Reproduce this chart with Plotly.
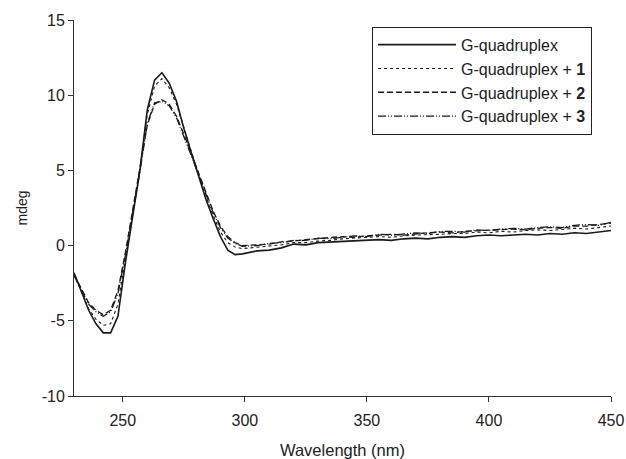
import plotly.graph_objects as go

wavelength = [230, 233, 236, 239, 242, 245, 248, 251, 254, 257,
              260, 263, 266, 269, 272, 275, 278, 281, 284, 287,
              290, 293, 296, 299,
              305, 310, 315, 320, 325, 330, 335, 340, 345, 350,
              355, 360, 365, 370, 375, 380, 385, 390, 395, 400,
              405, 410, 415, 420, 425, 430, 435, 440, 445, 450]

gq = [-1.8, -3.0, -4.3, -5.2, -5.8, -5.8, -4.7, -1.2, 2.0, 5.0,
      9.0, 11.0, 11.5, 10.8, 9.6, 7.8, 6.2, 4.6, 3.1, 1.8,
      0.6, -0.3, -0.6, -0.55,
      -0.35, -0.3, -0.15, 0.1, 0.05, 0.2, 0.25, 0.3, 0.35, 0.35,
      0.4, 0.35, 0.45, 0.5, 0.45, 0.55, 0.6, 0.55, 0.65, 0.7,
      0.65, 0.7, 0.75, 0.7, 0.8, 0.75, 0.85, 0.8, 0.9, 1.0]

gq1 = [-1.9, -3.0, -4.2, -4.9, -5.3, -5.2, -3.9, -0.9, 2.2, 5.1,
       8.7, 10.6, 11.1, 10.5, 9.4, 7.8, 6.3, 4.8, 3.3, 2.0,
       0.9, 0.2, -0.1, -0.2,
       -0.1, 0.0, 0.05, 0.2, 0.2, 0.3, 0.35, 0.45, 0.5, 0.5,
       0.6, 0.55, 0.65, 0.7, 0.7, 0.75, 0.8, 0.8, 0.9, 0.85,
       0.95, 0.9, 1.0, 1.05, 1.0, 1.1, 1.15, 1.1, 1.2, 1.3]

gq2 = [-1.9, -2.9, -3.8, -4.3, -4.6, -4.3, -3.0, -0.5, 2.3, 5.0,
       8.0, 9.4, 9.7, 9.4, 8.6, 7.4, 6.1, 4.8, 3.5, 2.3,
       1.3, 0.6, 0.2, 0.0,
       0.05, 0.1, 0.25, 0.3, 0.4, 0.45, 0.5, 0.6, 0.55, 0.65,
       0.7, 0.75, 0.7, 0.8, 0.85, 0.9, 0.85, 0.95, 1.0, 1.0,
       1.05, 1.1, 1.05, 1.15, 1.2, 1.15, 1.3, 1.3, 1.4, 1.5]

gq3 = [-2.0, -3.0, -3.9, -4.4, -4.7, -4.4, -3.2, -0.7, 2.1, 4.9,
       8.1, 9.5, 9.6, 9.3, 8.5, 7.3, 6.0, 4.7, 3.4, 2.2,
       1.2, 0.5, 0.15, -0.05,
       0.0, 0.15, 0.2, 0.35, 0.35, 0.5, 0.45, 0.55, 0.65, 0.6,
       0.75, 0.7, 0.8, 0.85, 0.8, 0.95, 0.95, 0.9, 1.05, 1.0,
       1.1, 1.15, 1.1, 1.2, 1.25, 1.2, 1.35, 1.4, 1.35, 1.55]

names = ["G-quadruplex", "G-quadruplex + <b>1</b>",
         "G-quadruplex + <b>2</b>", "G-quadruplex + <b>3</b>"]

x_ticks = [250, 300, 350, 400, 450]
y_ticks = [-10, -5, 0, 5, 10, 15]
y_ticktext = ["-10", "-5", "0", "5", "10", "15"]

ink = "#1a1a1a"
styles = [
    dict(color=ink, width=1.6, dash="solid"),
    dict(color=ink, width=1.1, dash="dot"),
    dict(color=ink, width=1.3, dash="6px,3px"),
    dict(color=ink, width=1.3, dash="8px,2px,1px,2px,1px,2px"),
]

fig = go.Figure()
for ys, nm, st in zip([gq, gq1, gq2, gq3], names, styles):
    fig.add_trace(go.Scatter(x=wavelength, y=ys, mode="lines", name=nm,
                             line=st))

fam = "Liberation Sans, Arial, sans-serif"
font = dict(family=fam, size=16, color="#222")

fig.update_layout(
    width=626, height=459,
    margin=dict(l=74, r=15, t=20, b=63, autoexpand=False),
    paper_bgcolor="white", plot_bgcolor="white",
    font=font,
    showlegend=True,
    legend=dict(x=0.555, y=0.982, xanchor="left", yanchor="top",
                bordercolor="#222", borderwidth=1, bgcolor="white",
                itemwidth=78, font=dict(size=16, family=fam, color="#222"),
                tracegroupgap=0),
    xaxis=dict(range=[230, 450], tickvals=x_ticks, showgrid=False, zeroline=False,
               showline=True, linecolor="#333", linewidth=1,
               ticks="outside", ticklen=5, tickcolor="#333",
               ticklabelstandoff=5, automargin=False,
               tickfont=dict(size=16),
               title=dict(text="Wavelength (nm)", standoff=16,
                          font=dict(size=16.5))),
    yaxis=dict(range=[-10, 15], tickvals=y_ticks, ticktext=y_ticktext,
               showgrid=False, zeroline=False, automargin=False,
               showline=True, linecolor="#333", linewidth=1,
               ticks="outside", ticklen=5, tickcolor="#333",
               tickfont=dict(size=16),
               title=dict(text="mdeg", standoff=10, font=dict(size=14))),
)

fig.write_html("out.html")
